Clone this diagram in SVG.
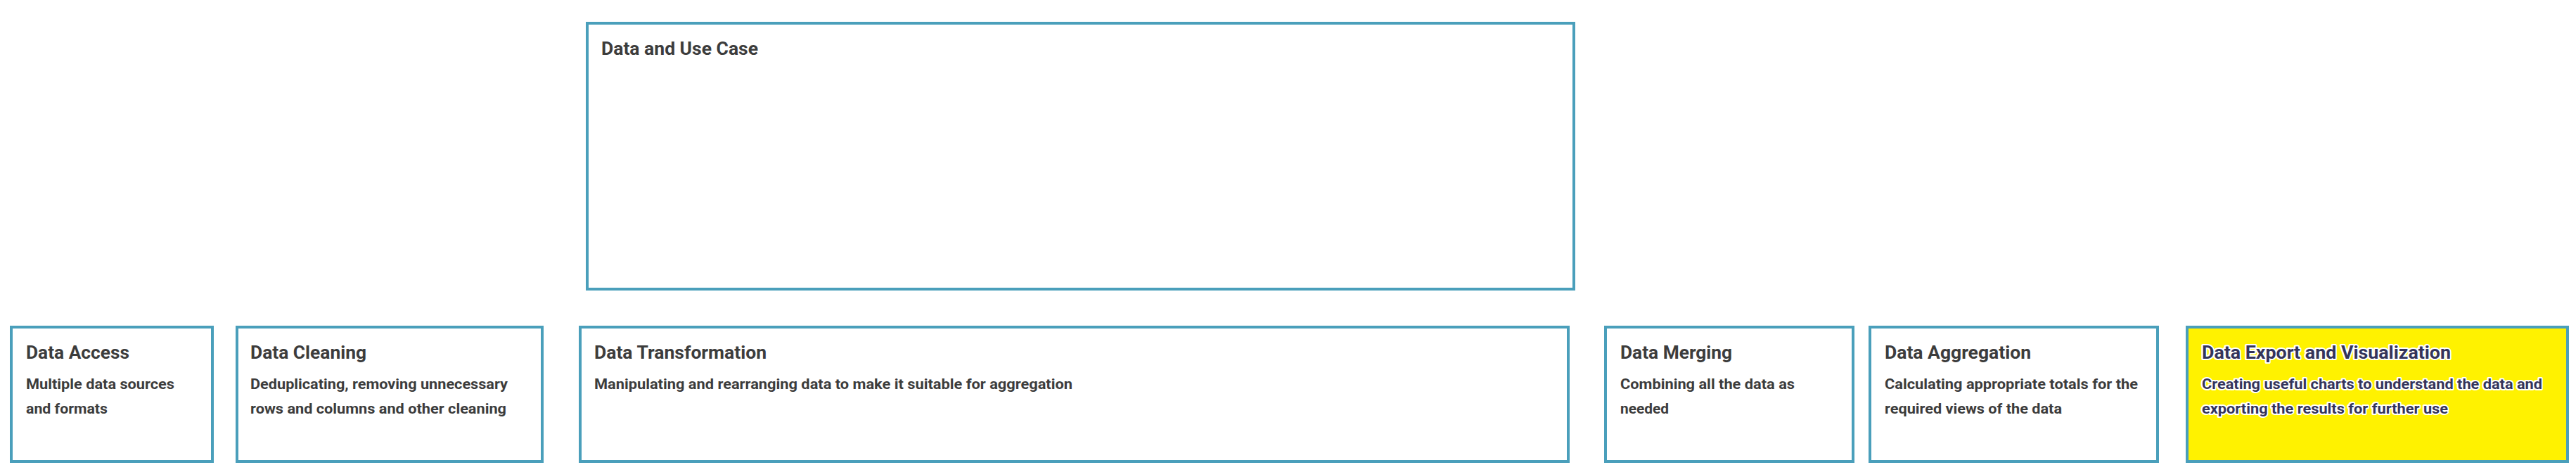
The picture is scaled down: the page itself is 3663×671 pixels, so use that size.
<svg xmlns="http://www.w3.org/2000/svg" width="3663" height="671" viewBox="0 0 3663 671">
<style>
.box{fill:#ffffff;stroke:#4a9fbb;stroke-width:4}
.hl{fill:#fff200}
.t{font-family:Roboto,"Liberation Sans",sans-serif;font-weight:700;font-size:25px;fill:#3c3c3c}
.d{font-family:Roboto,"Liberation Sans",sans-serif;font-weight:700;font-size:21px;fill:#3c3c3c}
.y{fill:#34345a;stroke:#ffffff;stroke-width:4;paint-order:stroke;stroke-linejoin:round}
</style>
<rect width="3663" height="671" fill="#ffffff"/>
<g id="node-usecase">
<rect class="box" x="835" y="33" width="1403" height="378"/>
<text class="t" x="855" y="78" textLength="223" lengthAdjust="spacingAndGlyphs">Data and Use Case</text>
</g>
<g id="node-access">
<rect class="box" x="16" y="465" width="286" height="191"/>
<text class="t" x="37" y="510" textLength="147" lengthAdjust="spacingAndGlyphs">Data Access</text>
<text class="d" x="37" y="553" textLength="211" lengthAdjust="spacingAndGlyphs">Multiple data sources</text>
<text class="d" x="37" y="588" textLength="116" lengthAdjust="spacingAndGlyphs">and formats</text>
</g>
<g id="node-cleaning">
<rect class="box" x="337" y="465" width="434" height="191"/>
<text class="t" x="356" y="510" textLength="165" lengthAdjust="spacingAndGlyphs">Data Cleaning</text>
<text class="d" x="356" y="553" textLength="366" lengthAdjust="spacingAndGlyphs">Deduplicating, removing unnecessary</text>
<text class="d" x="356" y="588" textLength="364" lengthAdjust="spacingAndGlyphs">rows and columns and other cleaning</text>
</g>
<g id="node-transformation">
<rect class="box" x="825" y="465" width="1405" height="191"/>
<text class="t" x="845" y="510" textLength="245" lengthAdjust="spacingAndGlyphs">Data Transformation</text>
<text class="d" x="845" y="553" textLength="680" lengthAdjust="spacingAndGlyphs">Manipulating and rearranging data to make it suitable for aggregation</text>
</g>
<g id="node-merging">
<rect class="box" x="2283" y="465" width="352" height="191"/>
<text class="t" x="2304" y="510" textLength="159" lengthAdjust="spacingAndGlyphs">Data Merging</text>
<text class="d" x="2304" y="553" textLength="248" lengthAdjust="spacingAndGlyphs">Combining all the data as</text>
<text class="d" x="2304" y="588" textLength="69" lengthAdjust="spacingAndGlyphs">needed</text>
</g>
<g id="node-aggregation">
<rect class="box" x="2659" y="465" width="409" height="191"/>
<text class="t" x="2680" y="510" textLength="208" lengthAdjust="spacingAndGlyphs">Data Aggregation</text>
<text class="d" x="2680" y="553" textLength="360" lengthAdjust="spacingAndGlyphs">Calculating appropriate totals for the</text>
<text class="d" x="2680" y="588" textLength="252" lengthAdjust="spacingAndGlyphs">required views of the data</text>
</g>
<g id="node-export">
<rect class="box hl" x="3110" y="465" width="541" height="191"/>
<text class="t y" x="3131" y="510" textLength="354" lengthAdjust="spacingAndGlyphs">Data Export and Visualization</text>
<text class="d y" x="3131" y="553" textLength="484" lengthAdjust="spacingAndGlyphs">Creating useful charts to understand the data and</text>
<text class="d y" x="3131" y="588" textLength="350" lengthAdjust="spacingAndGlyphs">exporting the results for further use</text>
</g>
<g id="connectors"></g>
</svg>
